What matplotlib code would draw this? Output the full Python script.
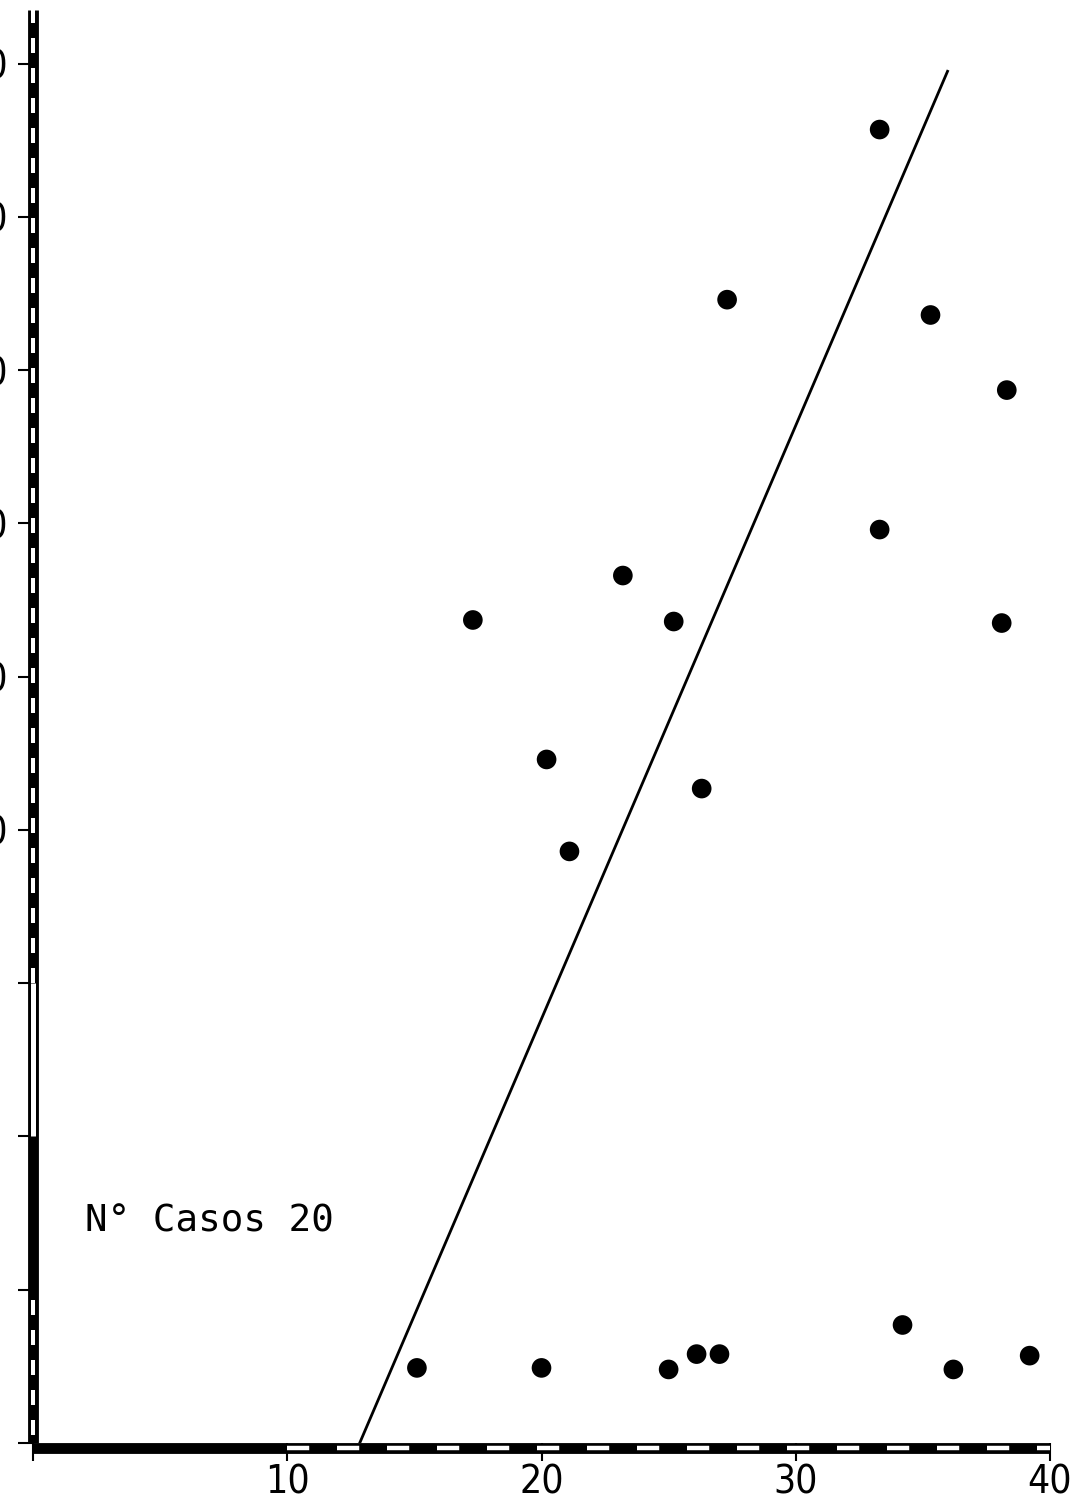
import matplotlib.pyplot as plt
from matplotlib import font_manager
import numpy as np

plt.rcParams['lines.scale_dashes'] = False

# puntos (x, y)
x_vals = [17.3, 20.2, 21.1, 23.2, 25.2, 26.3, 27.3, 33.3, 35.3, 38.3,
          33.3, 38.1, 15.1, 20.0, 25.0, 26.1, 27.0, 34.2, 36.2, 39.2]
y_vals = [53.7, 44.6, 38.6, 56.6, 53.6, 42.7, 74.6, 85.7, 73.6, 68.7,
          59.6, 53.5, 4.9, 4.9, 4.8, 5.8, 5.8, 7.7, 4.8, 5.7]

# recta de regresion
line_x = [12.85, 35.97]
line_y = [0.0, 89.5]

xticks = [0, 10, 20, 30, 40]
xtick_labels = ['', '10', '20', '30', '40']
yticks = [0, 10, 20, 30, 40, 50, 60, 70, 80, 90]
ytick_labels = ['', '', '', '', '40', '50', '60', '70', '80', '90']

# fuente estrecha para los numeros, si existe
fonts = font_manager.fontManager.ttflist
names = set(f.name for f in fonts)
tick_font = dict(fontfamily='DejaVu Sans', fontsize=22)
if 'Liberation Sans Narrow' in names:
    tick_font = dict(fontfamily='Liberation Sans Narrow', fontsize=30)
elif any(f.name == 'DejaVu Sans' and f.stretch == 'condensed' for f in fonts):
    tick_font = dict(fontfamily='DejaVu Sans', fontstretch='condensed', fontsize=28)
elif 'DejaVu Sans Condensed' in names:
    tick_font = dict(fontfamily='DejaVu Sans Condensed', fontsize=28)

fig = plt.figure(figsize=(10.72, 15.05), dpi=100)
ax = fig.add_axes([33 / 1072, 62 / 1505, 1017 / 1072, 1433 / 1505])
ax.set_xlim(0, 40)
ax.set_ylim(0, 93.5)

for s in ax.spines.values():
    s.set_visible(False)

# ejes gruesos con trazos blancos (como el original)
ymax = 93.5
ax.plot([0, 0], [0, ymax], color='black', lw=7.8, solid_capstyle='butt', clip_on=False, zorder=3)
ax.plot([0, 0], [30, ymax], color='white', lw=2.9, ls=(0, (10.8, 10.8)), clip_on=False, zorder=4)
ax.plot([0, 0], [0.5, 10], color='white', lw=2.9, ls=(0, (10.8, 10.8)), clip_on=False, zorder=4)
ax.plot([0, 0], [20, 30], color='white', lw=3.6, solid_capstyle='butt', clip_on=False, zorder=4)

ax.plot([0, 40], [-0.3, -0.3], color='black', lw=7.8, solid_capstyle='butt', clip_on=False, zorder=3)
ax.plot([10, 40], [-0.3, -0.3], color='white', lw=3.2, ls=(0, (16, 20)), clip_on=False, zorder=4)

ax.plot(line_x, line_y, color='black', lw=2.0, zorder=2)
ax.scatter(x_vals, y_vals, s=200, color='black', edgecolors='none', zorder=5)

ax.set_xticks(xticks)
ax.set_xticklabels(xtick_labels, **tick_font)
ax.set_yticks(yticks)
ax.set_yticklabels(ytick_labels, **tick_font)
ax.tick_params(axis='x', direction='out', length=13, width=1.5, pad=2)
ax.tick_params(axis='y', direction='out', length=11, width=1.5, pad=7)

ax.text(2.04, 13.8, 'N° Casos 20', fontsize=27, va='baseline', ha='left',
        family=['DejaVu Sans Mono'])

plt.savefig('out.png', dpi=100)
